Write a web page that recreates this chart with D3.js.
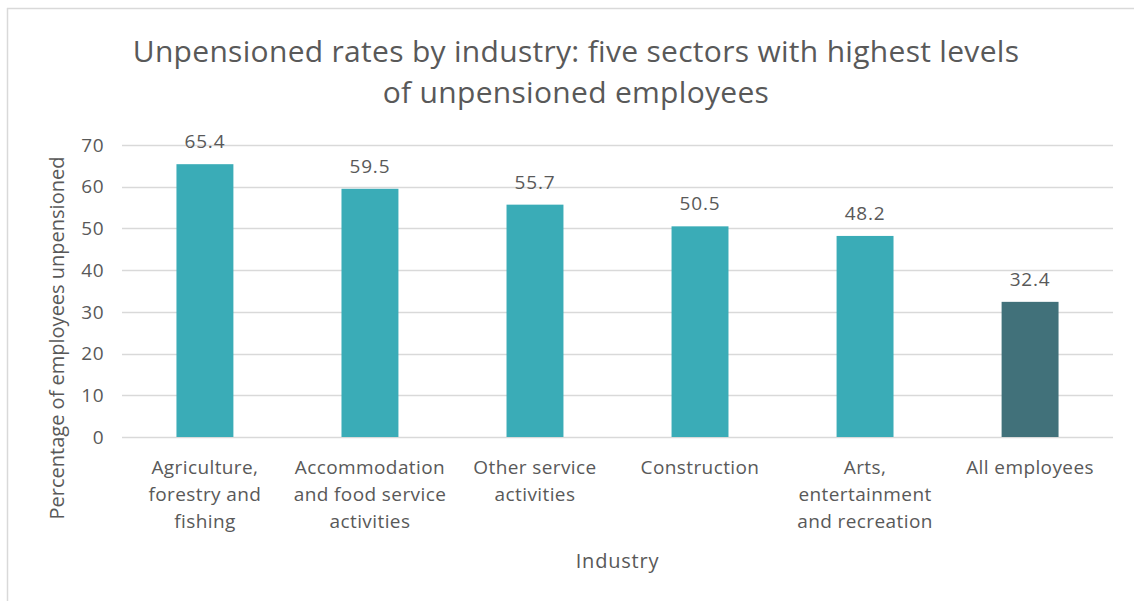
<!DOCTYPE html>
<html>
<head>
<meta charset="utf-8">
<script src="https://cdn.jsdelivr.net/npm/d3@7"></script>
<style>
  html, body { margin: 0; padding: 0; background: #ffffff; }
  svg { display: block; }
  text { font-family: "Open Sans", "Noto Sans", sans-serif; fill: #595959; }
</style>
</head>
<body>
<svg id="chart" width="1134" height="601"></svg>
<script>
// Industries shown along the x axis (each label split over lines)
const categories = [
  ["Agriculture,", "forestry and", "fishing"],
  ["Accommodation", "and food service", "activities"],
  ["Other service", "activities"],
  ["Construction"],
  ["Arts,", "entertainment", "and recreation"],
  ["All employees"]
];
// Percentage of employees unpensioned
const values = [65.4, 59.5, 55.7, 50.5, 48.2, 32.4];
const yTicks = [0, 10, 20, 30, 40, 50, 60, 70];
const titleLines = [
  "Unpensioned rates by industry: five sectors with highest levels",
  "of unpensioned employees"
];
const xTitle = "Industry";
const yTitle = "Percentage of employees unpensioned";

const svg = d3.select("#chart");

// Frame lines along the top and left edge
svg.append("line").attr("x1", 7).attr("x2", 1134).attr("y1", 8.5).attr("y2", 8.5)
  .attr("stroke", "#d9d9d9").attr("stroke-width", 1.5);
svg.append("line").attr("x1", 7.5).attr("x2", 7.5).attr("y1", 8).attr("y2", 601)
  .attr("stroke", "#d9d9d9").attr("stroke-width", 1.5);

const plotLeft = 122, plotRight = 1113, plotTop = 145, plotBottom = 437;

const x = d3.scaleBand()
  .domain(d3.range(categories.length))
  .range([plotLeft, plotRight])
  .paddingInner(0.655)
  .paddingOuter(0.33);

const y = d3.scaleLinear().domain([0, 70]).range([plotBottom, plotTop]);

// Gridlines
svg.append("g")
  .selectAll("line")
  .data(yTicks)
  .join("line")
  .attr("x1", plotLeft).attr("x2", plotRight)
  .attr("y1", d => Math.round(y(d)) + 0.5).attr("y2", d => Math.round(y(d)) + 0.5)
  .attr("stroke", "#d9d9d9").attr("stroke-width", 1.3);

// Y tick labels
svg.append("g")
  .selectAll("text")
  .data(yTicks)
  .join("text")
  .attr("x", 104).attr("y", d => y(d))
  .attr("dy", "0.35em")
  .attr("text-anchor", "end")
  .attr("font-size", 19)
  .attr("letter-spacing", 0.5)
  .text(d => d);

// Bars
svg.append("g")
  .selectAll("rect")
  .data(values)
  .join("rect")
  .attr("x", (d, i) => x(i))
  .attr("width", x.bandwidth())
  .attr("y", d => y(d))
  .attr("height", d => y(0) - y(d))
  .attr("fill", (d, i) => i === values.length - 1 ? "#41717a" : "#3aacb7");

// Value labels above bars
svg.append("g")
  .selectAll("text")
  .data(values)
  .join("text")
  .attr("x", (d, i) => x(i) + x.bandwidth() / 2)
  .attr("y", d => y(d) - 16)
  .attr("text-anchor", "middle")
  .attr("font-size", 19)
  .attr("letter-spacing", 0.8)
  .text(d => d.toFixed(1));

// Category labels
const catG = svg.append("g");
categories.forEach((lines, i) => {
  const cx = x(i) + x.bandwidth() / 2;
  const t = catG.append("text")
    .attr("x", cx)
    .attr("y", 474)
    .attr("text-anchor", "middle")
    .attr("font-size", 19)
    .attr("letter-spacing", 0.4);
  lines.forEach((ln, j) => {
    t.append("tspan")
      .attr("x", cx)
      .attr("dy", j === 0 ? 0 : 27)
      .text(ln);
  });
});

// Axis titles
svg.append("text")
  .attr("x", (plotLeft + plotRight) / 2).attr("y", 568)
  .attr("text-anchor", "middle").attr("font-size", 20)
  .attr("letter-spacing", 0.8)
  .text(xTitle);

svg.append("text")
  .attr("transform", `translate(64, ${(plotTop + plotBottom) / 2 + 47}) rotate(-90)`)
  .attr("text-anchor", "middle").attr("font-size", 20)
  .text(yTitle);

// Chart title
const title = svg.append("text")
  .attr("x", 576).attr("y", 62)
  .attr("text-anchor", "middle").attr("font-size", 30)
  .attr("letter-spacing", 0.3);
titleLines.forEach((ln, j) => {
  title.append("tspan").attr("x", 576).attr("dy", j === 0 ? 0 : 41).text(ln);
});
</script>
</body>
</html>
